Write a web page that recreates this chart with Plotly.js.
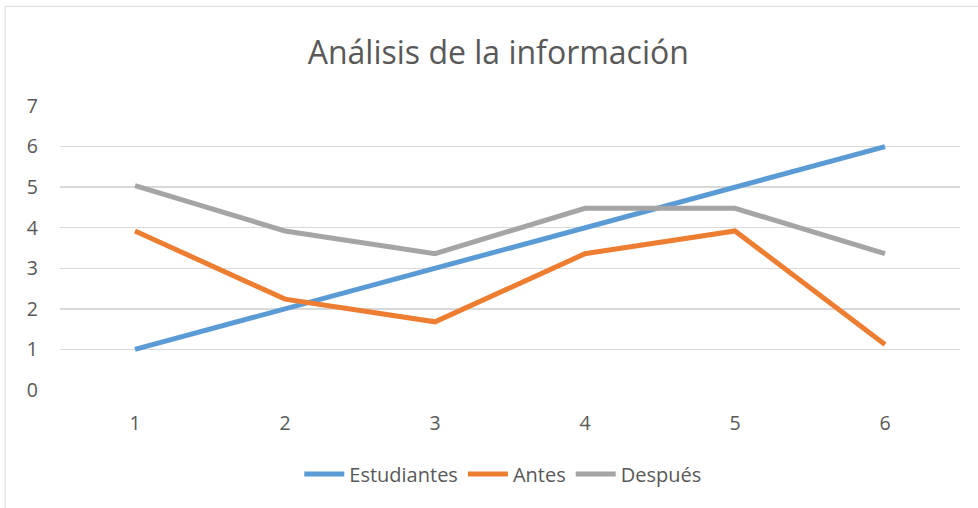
<!DOCTYPE html>
<html>
<head>
<meta charset="utf-8">
<script src="https://cdn.plot.ly/plotly-3.0.1.min.js"></script>
<style>html,body{margin:0;padding:0;background:#fff}#chart{width:978px;height:508px}</style>
</head>
<body>
<div id="chart"></div>
<script>
const categories = [1, 2, 3, 4, 5, 6];
const estudiantes = [1, 2, 3, 4, 5, 6];
const antes = [3.92, 2.24, 1.68, 3.36, 3.92, 1.12];
const despues = [5.04, 3.92, 3.36, 4.48, 4.48, 3.36];
const seriesNames = ['Estudiantes', 'Antes', 'Después'];
const yTicks = [0, 1, 2, 3, 4, 5, 6, 7];

const font = '"Open Sans", Lato, sans-serif';
const txt = '#595959';

const mk = (y, name, color) => ({
  x: categories, y: y, name: name, type: 'scatter', mode: 'lines',
  line: {color: color, width: 5, shape: 'linear'}
});

const data = [
  mk(estudiantes, seriesNames[0], '#5B9BD5'),
  mk(antes, seriesNames[1], '#ED7D31'),
  mk(despues, seriesNames[2], '#A5A5A5')
];

const layout = {
  width: 978, height: 508,
  margin: {l: 60, r: 18, t: 106, b: 118},
  paper_bgcolor: '#fff', plot_bgcolor: '#fff',
  font: {family: font, color: txt, size: 19},
  title: {text: 'Análisis de la información', font: {family: font, size: 32, color: txt},
          x: 0.487, xref: 'paper', xanchor: 'center', y: 51, yref: 'container', yanchor: 'middle'},
  xaxis: {range: [0.5, 6.5], tickvals: categories, ticktext: categories.map(String),
          showgrid: false, zeroline: false, showline: false, ticks: '',
          ticklabelstandoff: 19, tickfont: {size: 19.5, color: txt, family: font}, fixedrange: true},
  yaxis: {range: [0, 7], tickvals: yTicks, showgrid: true, gridcolor: '#d9d9d9', gridwidth: 1.5,
          zeroline: false, showline: false, ticks: '', ticklabelstandoff: 21,
          tickfont: {size: 19.5, color: txt, family: font}, fixedrange: true},
  showlegend: true,
  legend: {orientation: 'h', x: 0.492, xanchor: 'center', y: -0.296, yanchor: 'middle',
           font: {size: 20, color: txt, family: font}, itemwidth: 40, tracegroupgap: 0},
  shapes: [{type: 'rect', xref: 'paper', yref: 'paper', x0: -0.061, x1: 1.2, y0: -0.44, y1: 1.351,
            line: {color: '#d9d9d9', width: 1}, fillcolor: 'rgba(0,0,0,0)', layer: 'below'}]
};

Plotly.newPlot('chart', data, layout, {displayModeBar: false, staticPlot: true});
</script>
</body>
</html>
